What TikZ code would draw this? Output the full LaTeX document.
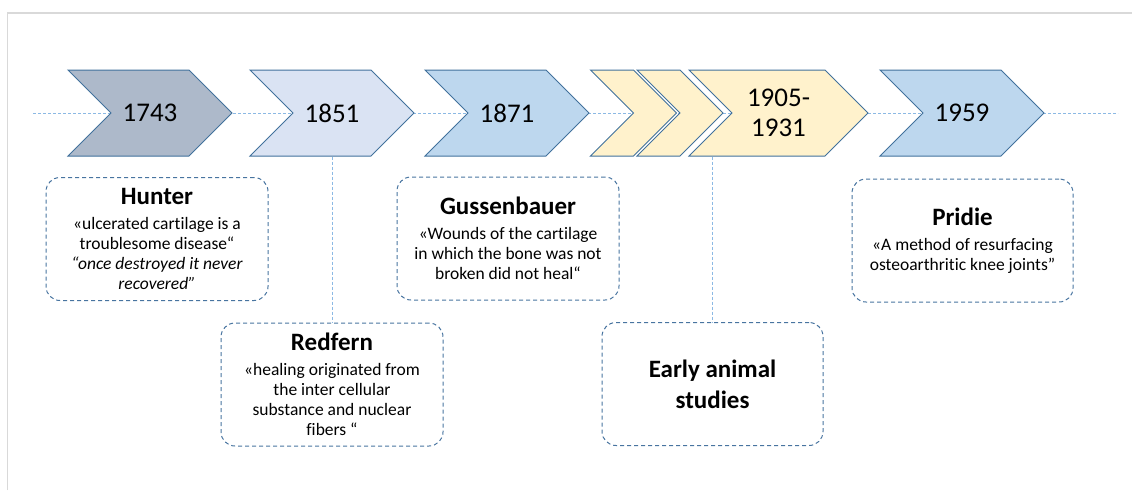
\documentclass[tikz,border=0pt]{standalone}
\usepackage{fontspec}
\setmainfont{Carlito}[Ligatures=NoCommon]
\usetikzlibrary{shapes.symbols}
\definecolor{chevline}{RGB}{65,113,156}
\definecolor{boxline}{RGB}{72,116,160}
\definecolor{linkblue}{RGB}{140,185,228}
\definecolor{framegray}{RGB}{217,217,217}
\definecolor{slate}{RGB}{173,185,202}
\definecolor{paleblue}{RGB}{218,227,243}
\definecolor{midblue}{RGB}{189,215,238}
\definecolor{paleyellow}{RGB}{255,242,204}
\newcommand{\who}[1]{{\fontsize{25}{25}\selectfont\bfseries #1}\\[5pt]}

\begin{document}
\begin{tikzpicture}[x=1pt, y=-1pt,
        yearbox/.style={signal, signal to=east, signal from=west, signal pointer angle=90, draw=chevline, line width=1pt, minimum height=86pt, inner sep=0pt, align=center, font=\fontsize{27}{30}\selectfont},
        quote/.style={rectangle, rounded corners=14pt, draw=boxline, dash pattern=on 4pt off 3pt, line width=1pt, minimum width=222pt, minimum height=123pt, inner sep=2pt, align=center, font=\fontsize{17.5}{20}\selectfont},
        link/.style={draw=linkblue, line width=1pt, dash pattern=on 3pt off 2pt}
    ]
        \useasboundingbox (0,0) rectangle (1132,490);
        \draw[framegray, line width=1.5pt] (7.5,490) -- (7.5,13) -- (1132,13);

        \coordinate (tl) at (33,113);
        \coordinate (tr) at (1118,113);
        \draw[link] (tl) -- (tr);

        \node[yearbox, fill=slate, minimum width=164pt] (y1743) at (150,113) {1743};
        \node[yearbox, fill=paleblue, minimum width=164pt] (y1851) at (332,113) {1851};
        \node[yearbox, fill=midblue, minimum width=164pt] (y1871) at (507,113) {1871};
        \node[yearbox, fill=paleyellow, minimum width=77pt] (s1) at (633.5,113) {};
        \node[yearbox, fill=paleyellow, minimum width=76pt] (s2) at (680,113) {};
        \node[yearbox, fill=paleyellow, minimum width=179pt] (y1905) at (778.5,113) {1905-\\1931};
        \node[yearbox, fill=midblue, minimum width=164pt] (y1959) at (962,113) {1959};

        \node[quote] (hunter) at (157,239) {\who{Hunter}«ulcerated cartilage is a\\troublesome disease“\\\textit{“once destroyed it never}\\\textit{recovered”}};
        \node[quote] (redfern) at (332,384.5) {\who{Redfern}«healing originated from\\the inter cellular\\substance and nuclear\\fibers “};
        \node[quote] (gussen) at (508,238.5) {\who{Gussenbauer}«Wounds of the cartilage\\in which the bone was not\\broken did not heal“};
        \node[quote, minimum width=221pt, font=\fontsize{25}{31}\selectfont\bfseries] (animal) at (712.5,384) {Early animal\\studies};
        \node[quote, minimum width=221pt] (pridie) at (962.5,240.5) {\who{Pridie}«A method of resurfacing\\osteoarthritic knee joints”};

        \draw[link] (y1851.south) -- (redfern.north);
        \draw[link] (y1905.south -| animal.north) -- (animal.north);
    \end{tikzpicture}
\end{document}
